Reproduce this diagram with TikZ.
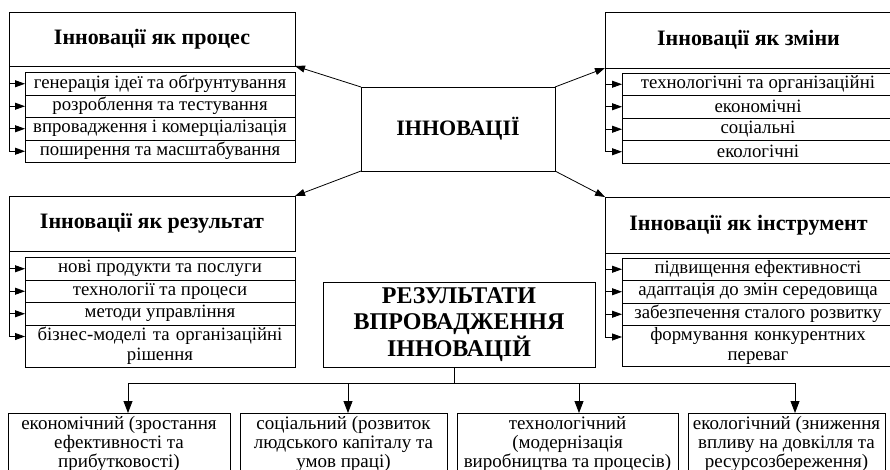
\documentclass[tikz,border=0pt]{standalone}
\usepackage{fontspec}
\setmainfont{Liberation Serif}
\usetikzlibrary{arrows.meta,calc}
\begin{document}
\begin{tikzpicture}[x=1pt,y=-1pt,
 every node/.style={inner sep=0pt, outer sep=0pt},
 box/.style={draw, line width=0.8pt, anchor=north west, align=center},
 head/.style={box, font=\fontsize{22}{24}\selectfont\bfseries},
 item/.style={box, minimum width=270, minimum height=22.5, font=\fontsize{18.8}{20}\selectfont},
 itemr/.style={item, minimum width=272},
 bot/.style={box, minimum height=62, font=\fontsize{19}{19}\selectfont},
 arr/.style={-{Triangle[length=10pt,width=7pt]}, line width=0.8pt},
 arrb/.style={-{Triangle[length=12pt,width=9pt]}, line width=0.8pt},
 ln/.style={line width=0.8pt}]
\useasboundingbox (0,0) rectangle (890,470);

% centre
\node[box, minimum width=194, minimum height=84, font=\fontsize{22}{26}\selectfont\bfseries] (c) at (361,87) {ІННОВАЦІЇ};

% process (top left)
\node[head, minimum width=286, minimum height=54] (p) at (9,12) {Інновації як процес};
\node[item] (p1) at (25,72.5) {генерація ідеї та обґрунтування};
\node[item] (p2) at (p1.south west) {розроблення та тестування};
\node[item] (p3) at (p2.south west) {впровадження і комерціалізація};
\node[item] (p4) at (p3.south west) {поширення та масштабування};

% changes (top right)
\node[head, minimum width=287, minimum height=56] (z) at (605,12) {Інновації як зміни};
\node[itemr] (z1) at (622,73) {технологічні та організаційні};
\node[itemr] (z2) at (z1.south west) {економічні};
\node[itemr] (z3) at (z2.south west) {соціальні};
\node[itemr] (z4) at (z3.south west) {екологічні};

% result (bottom left)
\node[head, minimum width=286, minimum height=55] (r) at (9,196) {Інновації як результат};
\node[item] (r1) at (25,257.5) {нові продукти та послуги};
\node[item] (r2) at (r1.south west) {технології та процеси};
\node[item] (r3) at (r2.south west) {методи управління};
\node[item, minimum height=42, text width=266] (r4) at (r3.south west) {бізнес-моделі та організаційні\\рішення};

% instrument (bottom right)
\node[head, minimum width=287, minimum height=56] (i) at (605,197) {Інновації як інструмент};
\node[itemr] (i1) at (622,258) {підвищення ефективності};
\node[itemr] (i2) at (i1.south west) {адаптація до змін середовища};
\node[itemr] (i3) at (i2.south west) {забезпечення сталого розвитку};
\node[itemr, minimum height=41, text width=266] (i4) at (i3.south west) {формування конкурентних\\переваг};

% results of implementation
\node[box, minimum width=272, minimum height=85, font=\fontsize{24}{26.5}\selectfont\bfseries] (res) at (323,282) {РЕЗУЛЬТАТИ\\ВПРОВАДЖЕННЯ\\ІННОВАЦІЙ};

\node[bot, minimum width=222] (b1) at (8,413) {економічний (зростання\\ефективності та\\прибутковості)};
\node[bot, minimum width=207] (b2) at (240,413) {соціальний (розвиток\\людського капіталу та\\умов праці)};
\node[bot, minimum width=221] (b3) at (457,413) {технологічний\\(модернізація\\виробництва та процесів)};
\node[bot, minimum width=197] (b4) at (688,413) {екологічний (зниження\\впливу на довкілля та\\ресурсозбереження)};

% arrows from centre
\draw[arr] (c.north west) -- (p.south east);
\draw[arr] (c.north east) -- (z.south west);
\draw[arr] (c.south west) -- (r.north east);
\draw[arr] (c.south east) -- (i.north west);

% side feeds
\coordinate (r4a) at ($(r4.north west)+(0,11.5)$);
\coordinate (i4a) at ($(i4.north west)+(0,11.5)$);
\draw[ln] (p.south west) -- (p.south west |- p4.west);
\foreach \k in {1,2,3,4} \draw[arr] (p.south west |- p\k.west) -- (p\k.west);
\draw[ln] (z.south west) -- (z.south west |- z4.west);
\foreach \k in {1,2,3,4} \draw[arr] (z.south west |- z\k.west) -- (z\k.west);
\draw[ln] (r.south west) -- (r.south west |- r4a);
\foreach \k in {1,2,3} \draw[arr] (r.south west |- r\k.west) -- (r\k.west);
\draw[arr] (r.south west |- r4a) -- (r4a);
\draw[ln] (i.south west) -- (i.south west |- i4a);
\foreach \k in {1,2,3} \draw[arr] (i.south west |- i\k.west) -- (i\k.west);
\draw[arr] (i.south west |- i4a) -- (i4a);

% bottom bus
\coordinate (rs) at ($(res.south)+(-5,0)$);
\coordinate (a1) at (128,383);
\coordinate (a2) at (348,383);
\coordinate (a3) at (579,383);
\coordinate (a4) at (795,383);
\draw[ln] (a1) -- (a4);
\draw[ln] (rs) -- (rs |- a1);
\draw[arrb] (a1) -- (a1 |- b1.north);
\draw[arrb] (a2) -- (a2 |- b2.north);
\draw[arrb] (a3) -- (a3 |- b3.north);
\draw[arrb] (a4) -- (a4 |- b4.north);
\end{tikzpicture}
\end{document}
